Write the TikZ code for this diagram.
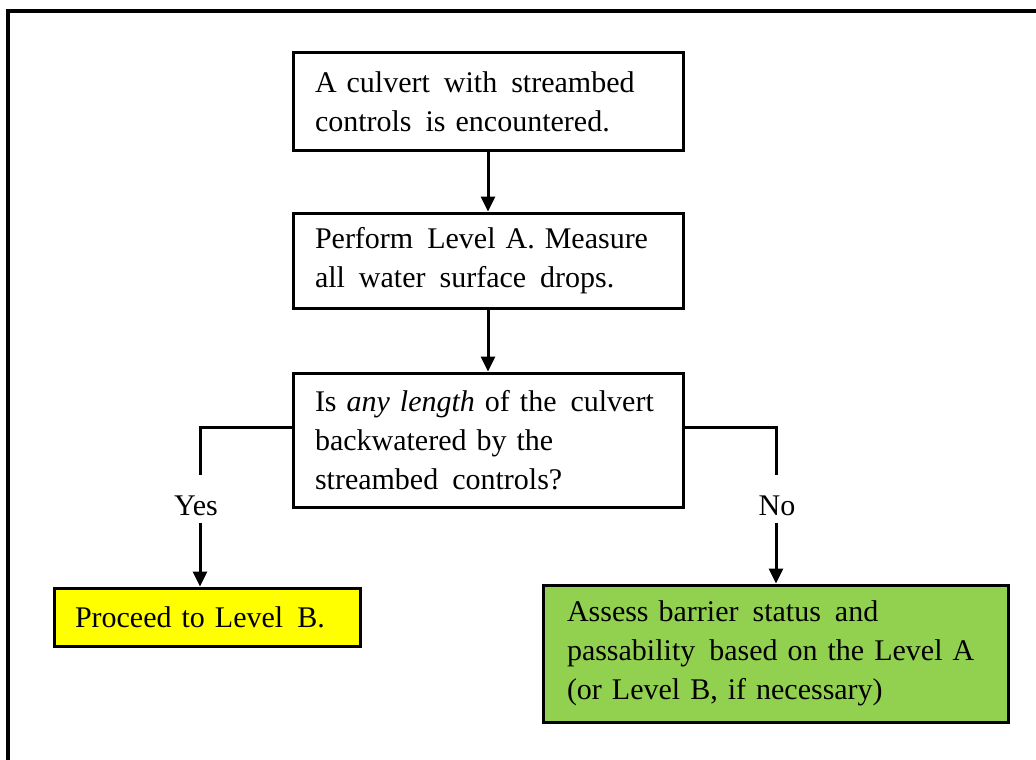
\documentclass[tikz,border=0pt]{standalone}
\usepackage{fontspec}
\setmainfont{Liberation Serif}
\usetikzlibrary{arrows.meta}
\definecolor{boxyellow}{RGB}{255,255,0}
\definecolor{boxgreen}{RGB}{146,208,80}
\newcommand\wgap{\hspace{4pt}}
\begin{document}
\begin{tikzpicture}[x=1pt,y=-1pt,
  box/.style={draw,line width=3pt,align=left,anchor=center,inner ysep=0pt,inner xsep=22pt,
    font=\fontsize{30}{39}\selectfont},
  lbl/.style={inner sep=0pt,font=\fontsize{30}{39}\selectfont},
  conn/.style={line width=3pt},
  arr/.style={conn,-{Triangle[length=15pt,width=14pt]}}]
\useasboundingbox (0,0) rectangle (1036,760);
\begin{scope}
  \clip (0,0) rectangle (1036,760);
  \draw[line width=4pt] (8,11) rectangle (1070,800);
\end{scope}

\node[box,minimum width=390pt,minimum height=97pt,text width=346pt] (b1) at (488,101.5)
  {A culvert\wgap{} with\wgap{} streambed\\controls\wgap{} is encountered.};
\node[box,minimum width=390pt,minimum height=95pt,text width=346pt] (b2) at (488,260.5)
  {Perform\wgap{} Level A. Measure\\all\wgap{} water\wgap{} surface\wgap{} drops.};
\node[box,minimum width=390pt,minimum height=134pt,text width=346pt] (b3) at (488,440)
  {Is \textit{any length} of the\wgap{} culvert\\backwatered by the\\streambed\wgap{} controls?};
\node[box,fill=boxyellow,minimum width=306pt,minimum height=58pt,text width=264pt,inner xsep=21pt] (yel) at (207,617)
  {Proceed to Level\wgap{} B.};
\node[box,fill=boxgreen,minimum width=465pt,minimum height=137pt,text width=417pt,inner xsep=24pt] (grn) at (775.5,653.5)
  {Assess barrier\wgap{} status\wgap{} and\\passability\wgap{} based on the Level A\\(or Level B, if necessary)};

\draw[arr] (b1.south) -- (b2.north);
\draw[arr] (b2.south) -- (b3.north);

\coordinate (ya) at (200,427);
\coordinate (yb) at (200,475);
\node[lbl,anchor=base] (yes) at (196,515) {Yes};
\coordinate (yc) at (200,523);
\draw[conn] (ya -| b3.west) -- (ya) -- (yb);
\draw[arr] (yc) -- (yc |- yel.north);

\coordinate (na) at (776,427);
\coordinate (nb) at (776,475);
\node[lbl,anchor=base] (no) at (777,515) {No};
\coordinate (nc) at (776,523);
\draw[conn] (na -| b3.east) -- (na) -- (nb);
\draw[arr] (nc) -- (nc |- grn.north);
\end{tikzpicture}
\end{document}
